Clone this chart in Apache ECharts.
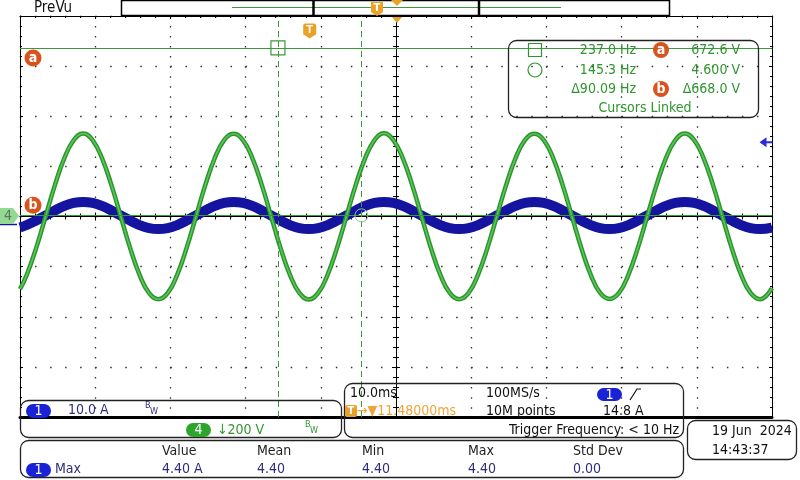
<!DOCTYPE html>
<html><head><meta charset="utf-8">
<script src="https://cdn.jsdelivr.net/npm/echarts@6/dist/echarts.min.js"></script>
<style>html,body{margin:0;padding:0;background:#fff}#c{width:800px;height:480px}</style>
</head><body><div id="c"></div>
<script>
// ---- data ----
// time relative to screen centre (ms); screen centre = trigger + 11.48 ms
const timeMs = [-50, -49.1, -47.85, -46.6, -45.35, -44.1, -42.85,
  -41.6, -40.35, -39.1, -37.85, -36.6, -35.35, -34.1, -32.85, -31.6, -30.35, -29.1, -27.85, -26.6, -25.35, -24.1, -22.85,
  -21.6, -20.35, -19.1, -17.85, -16.6, -15.35, -14.1, -12.85, -11.6, -10.35, -9.1, -7.85, -6.6, -5.35, -4.1, -2.85,
  -1.6, -0.35, 0.9, 2.15, 3.4, 4.65, 5.9, 7.15, 8.4, 9.65, 10.9, 12.15, 13.4, 14.65, 15.9, 17.15,
  18.4, 19.65, 20.9, 22.15, 23.4, 24.65, 25.9, 27.15, 28.4, 29.65, 30.9, 32.15, 33.4, 34.65, 35.9, 37.15,
  38.4, 39.65, 40.9, 42.15, 43.4, 44.65, 45.9, 47.15, 48.4, 50];
// channel 4 voltage (V), 200 V/div
const ch4Volts = [-290, -233, -126, 0, 126, 233, 305,
  331, 305, 233, 126, 0, -126, -233, -305, -330, -305, -233, -126, 0, 126, 233, 305,
  330, 305, 233, 126, 0, -126, -233, -305, -331, -305, -233, -126, 0, 126, 233, 305,
  332, 305, 233, 126, 0, -126, -233, -305, -330, -305, -233, -126, 0, 126, 233, 305,
  330, 305, 233, 126, 0, -126, -233, -305, -329, -305, -233, -126, 0, 126, 233, 305,
  331, 305, 233, 126, 0, -126, -233, -305, -330, -286];
// channel 1 current (A), 10 A/div
const ch1Amps = [-2.2, -1.7, -0.8, 0.2, 1.2, 2.1, 2.7,
  2.9, 2.7, 2.1, 1.2, 0.2, -0.8, -1.7, -2.3, -2.5, -2.3, -1.7, -0.8, 0.2, 1.2, 2.1, 2.7,
  2.9, 2.7, 2.1, 1.2, 0.2, -0.8, -1.7, -2.3, -2.5, -2.3, -1.7, -0.8, 0.2, 1.2, 2.1, 2.7,
  2.9, 2.7, 2.1, 1.2, 0.2, -0.8, -1.7, -2.3, -2.5, -2.3, -1.7, -0.8, 0.2, 1.2, 2.1, 2.7,
  2.9, 2.7, 2.1, 1.2, 0.2, -0.8, -1.7, -2.3, -2.5, -2.3, -1.7, -0.8, 0.2, 1.2, 2.1, 2.7,
  2.9, 2.7, 2.1, 1.2, 0.2, -0.8, -1.7, -2.3, -2.5, -2.2];
const triggerDelayMs = 11.48;
const cursorTimesMs = [-4.219, 6.882];   // X1, X2 relative to trigger
const cursorVolts = [672.6, 4.6];        // Y a, Y b
const triggerLevelA = 14.8;
const readoutRows = [["237.0 Hz", "672.6 V"], ["145.3 Hz", "4.600 V"], ["\u039490.09 Hz", "\u0394668.0 V"]];
const measHeaders = ["Value", "Mean", "Min", "Max", "Std Dev"];
const measValues = ["4.40 A", "4.40", "4.40", "4.40", "0.00"];

// ---- chart ----
const F = "'Liberation Sans Narrow','DejaVu Sans Condensed','Arial Narrow',sans-serif";
const GREEN = '#2f962f', NAVY = '#2e2e7a', ORANGE = '#e9a128', BLUE = '#1414a0';
const chart = echarts.init(document.getElementById('c'), null, {renderer: 'canvas'});
const ch4Data = timeMs.map((t, i) => [t, ch4Volts[i]]);
const ch1Data = timeMs.map((t, i) => [t, ch1Amps[i]]);
const x1 = cursorTimesMs[0] - triggerDelayMs, x2 = cursorTimesMs[1] - triggerDelayMs;

function txt(x, y, s, fill, o) {
  o = o || {};
  return {type: 'text', x: x, y: y, z: 20, silent: true, style: {text: s, fill: fill, fontSize: o.size || 14,
    fontFamily: F, fontWeight: o.bold ? 'bold' : 'normal', align: o.align || 'left', verticalAlign: 'middle'}};
}
function rrect(x, y, w, h, r, stroke, fill, lw) {
  return {type: 'rect', z: 15, silent: true, shape: {x: x, y: y, width: w, height: h, r: r},
    style: {fill: fill || 'none', stroke: stroke || 'none', lineWidth: lw || 1}};
}
function pill(x, y, w, h, fill, label) {
  return [rrect(x, y, w, h, h / 2, null, fill), txt(x + w / 2, y + h / 2 + 0.5, label, '#fff', {align: 'center', size: 14})];
}
function badge(cx, cy, label) {
  return [{type: 'circle', z: 18, silent: true, shape: {cx: cx, cy: cy, r: 8}, style: {fill: '#d9531e'}},
    txt(cx, cy, label, '#fff', {align: 'center', size: 14, bold: true})];
}
function line(x1_, y1, x2_, y2, stroke, w) {
  return {type: 'line', z: 16, silent: true, shape: {x1: x1_, y1: y1, x2: x2_, y2: y2}, style: {stroke: stroke, lineWidth: w || 1}};
}
function tIcon(cx, cy) {
  return [{type: 'polygon', z: 18, silent: true, shape: {points: [[cx - 6, cy - 7], [cx + 6, cy - 7], [cx + 6, cy + 3], [cx, cy + 7], [cx - 6, cy + 3]]},
    style: {fill: ORANGE}}, txt(cx, cy - 1, 'T', '#fff', {align: 'center', size: 11, bold: true})];
}

const graphic = [].concat(
  [txt(34, 8, 'PreVu', '#111', {size: 15})],
  [rrect(121.5, 0.5, 548, 15, 0, '#000', '#fff', 1.5), line(232, 7.5, 561, 7.5, '#3a9a3a', 1.2),
   line(313.5, 1, 313.5, 15, '#000', 2.5), line(479, 1, 479, 15, '#000', 2.5)],
  tIcon(377, 9),
  [{type: 'polygon', z: 18, silent: true, shape: {points: [[391, 0], [403, 0], [397, 6]]}, style: {fill: ORANGE}},
   {type: 'polygon', z: 18, silent: true, shape: {points: [[392, 17], [402, 17], [397, 23]]}, style: {fill: ORANGE}}],
  // ch4 ground marker
  [{type: 'polygon', z: 18, silent: true, shape: {points: [[0, 208], [13, 208], [19, 216], [13, 224], [0, 224]]}, style: {fill: '#93d893'}},
   txt(8, 216, '4', '#5a7a5a', {align: 'center', size: 14}), line(0, 224.5, 17, 224.5, BLUE, 1.5)],
  // cursor readout box
  [rrect(508.5, 40.5, 250, 77, 8, '#222', null, 1.3),
   rrect(528.5, 43.5, 13, 13, 0, GREEN, null, 1.2),
   {type: 'circle', z: 18, silent: true, shape: {cx: 535, cy: 70, r: 7}, style: {fill: 'none', stroke: GREEN, lineWidth: 1.2}}],
  readoutRows.map((r, i) => txt(636, [50, 70, 89][i], r[0], GREEN, {align: 'right'})),
  readoutRows.map((r, i) => txt(740, [50, 70, 89][i], r[1], GREEN, {align: 'right'})),
  badge(661, 50, 'a'), badge(661, 89, 'b'),
  [txt(645, 108, 'Cursors Linked', GREEN, {align: 'center'})],
  // channel panel
  [rrect(20.5, 400.5, 321, 37, 8, '#222', null, 1.3)],
  pill(26, 404, 25, 14, '#1a22d6', '1'),
  [txt(68, 410, '10.0 A', NAVY), txt(145, 406, 'B', NAVY, {size: 9}), txt(150, 412, 'W', NAVY, {size: 9})],
  pill(186, 423, 25, 14, '#2da52d', '4'),
  [txt(217, 430, '\u2193200 V', GREEN), txt(305, 425, 'B', GREEN, {size: 9}), txt(310, 431, 'W', GREEN, {size: 9})],
  // timebase panel
  [rrect(344.5, 383.5, 339, 54, 8, '#222', null, 1.3),
   txt(350, 393, '10.0ms', '#111'), txt(486, 393, '100MS/s', '#111')],
  pill(597, 388, 25, 13, '#1a22d6', '1'),
  [{type: 'polyline', z: 18, silent: true, shape: {points: [[630, 400], [637, 389], [641, 389]]}, style: {stroke: '#111', lineWidth: 1.2, fill: 'none'}}],
  [rrect(345, 405, 12, 12, 2, null, ORANGE), txt(351, 411, 'T', '#fff', {align: 'center', size: 11, bold: true}),
   txt(357, 411, '\u2192\u25BC11.48000ms', '#f0a53a'), txt(486, 411, '10M points', '#111'), txt(603, 411, '14.8 A', '#111'),
   txt(679, 430, 'Trigger Frequency: < 10 Hz', '#111', {align: 'right'})],
  // date panel
  [rrect(687.5, 420.5, 109, 39, 8, '#222', null, 1.3), txt(712, 431, '19 Jun  2024', '#111'), txt(712, 450, '14:43:37', '#111')],
  // measurement panel
  [rrect(20.5, 440.5, 663, 37, 8, '#222', null, 1.3)],
  measHeaders.map((h, i) => txt([162, 257, 362, 468, 573][i], 451, h, '#222')),
  pill(26, 463, 25, 14, '#1a22d6', '1'),
  [txt(55, 469, 'Max', NAVY)],
  measValues.map((v, i) => txt([162, 257, 362, 468, 573][i], 469, v, NAVY))
);

const hidden = {axisLabel: {show: false}, splitLine: {show: false}};
function edgeX(pos, width, ticks, split) {
  return Object.assign({type: 'value', min: -50, max: 50, interval: 10, position: pos}, hidden, {
    axisLine: {onZero: false, lineStyle: {color: '#000', width: width}},
    axisTick: {show: ticks, inside: true, length: 3, lineStyle: {color: '#000'}},
    minorTick: {show: ticks, splitNumber: 5, length: 2, lineStyle: {color: '#000'}},
    splitLine: {show: split, lineStyle: {color: '#333', width: 1.3, type: [1.5, 8.53]}}
  });
}
function centerX(inside) {
  return Object.assign({type: 'value', min: -50, max: 50, interval: 10, position: 'bottom'}, hidden, {
    axisLine: {onZero: true, onZeroAxisIndex: 0, lineStyle: {color: '#000', width: 1}},
    axisTick: {show: true, inside: inside, length: 4, lineStyle: {color: '#000'}},
    minorTick: {show: true, splitNumber: 5, length: 3, lineStyle: {color: '#000'}}
  });
}
function yAx(min, max, iv, pos, onZero, inside, split) {
  return Object.assign({type: 'value', min: min, max: max, interval: iv, position: pos}, hidden, {
    axisLine: onZero ? {onZero: true, onZeroAxisIndex: 0, lineStyle: {color: '#000', width: 1}} : {onZero: false, lineStyle: {color: '#000', width: 1}},
    axisTick: {show: true, inside: inside, length: onZero ? 4 : 3, lineStyle: {color: '#000'}},
    minorTick: {show: true, splitNumber: 5, length: onZero ? 3 : 2, lineStyle: {color: '#000'}},
    splitLine: {show: split, lineStyle: {color: '#333', width: 1.3, type: [1.5, 13.54]}}
  });
}

const option = {
  animation: false,
  backgroundColor: '#fff',
  grid: {left: 20, top: 16, width: 752, height: 401, containLabel: false},
  xAxis: [edgeX('bottom', 3, false, true), edgeX('top', 1, true, false), centerX(true), centerX(false)],
  yAxis: [yAx(-800, 800, 200, 'left', false, true, true), yAx(-40, 40, 10, 'right', false, true, false),
          yAx(-800, 800, 200, 'left', true, true, false), yAx(-800, 800, 200, 'left', true, false, false)],
  series: [
    {type: 'line', name: 'ch1', xAxisIndex: 0, yAxisIndex: 1, data: ch1Data, smooth: 0.45, symbol: 'none', z: 2,
     lineStyle: {color: BLUE, width: 10},
     markPoint: {silent: true, data: [{coord: [50, triggerLevelA], symbol: 'path://M0,5 L7,0 L7,4 L13,4 L13,6 L7,6 L7,10 Z',
       symbolSize: [13, 10], symbolOffset: [-6, 0], itemStyle: {color: '#2a2ad8'}, label: {show: false}}]}},
    {type: 'line', name: 'ch4', xAxisIndex: 0, yAxisIndex: 0, data: ch4Data, smooth: 0.45, symbol: 'none', z: 3,
     lineStyle: {color: '#2e922e', width: 4.5},
     markLine: {silent: true, symbol: 'none', label: {show: false}, animation: false,
       data: [
         {xAxis: x1, lineStyle: {color: '#3a9a3a', width: 1, type: [6, 4]}},
         {xAxis: x2, lineStyle: {color: '#3a9a3a', width: 1, type: [6, 4]}},
         {yAxis: cursorVolts[0], lineStyle: {color: '#3a9a3a', width: 1.2, type: 'solid'}},
         {yAxis: cursorVolts[1], lineStyle: {color: '#3a9a3a', width: 1.2, type: 'solid'}}
       ]},
     markPoint: {silent: true, data: [
       {coord: [x1, cursorVolts[0]], symbol: 'rect', symbolSize: 14, itemStyle: {color: 'rgba(0,0,0,0)', borderColor: '#3a9a3a', borderWidth: 1.2}, label: {show: false}},
       {coord: [x2, cursorVolts[1]], symbol: 'circle', symbolSize: 13, itemStyle: {color: 'rgba(0,0,0,0)', borderColor: '#8fc88f', borderWidth: 1}, label: {show: false}},
       {coord: [-50, cursorVolts[0]], symbol: 'circle', symbolSize: 17, symbolOffset: [13, 10], itemStyle: {color: '#d9531e'},
        label: {show: true, position: 'inside', formatter: 'a', color: '#fff', fontSize: 14, fontWeight: 'bold', fontFamily: F}},
       {coord: [-50, cursorVolts[1]], symbol: 'circle', symbolSize: 17, symbolOffset: [13, -10], itemStyle: {color: '#d9531e'},
        label: {show: true, position: 'inside', formatter: 'b', color: '#fff', fontSize: 14, fontWeight: 'bold', fontFamily: F}},
       {coord: [-triggerDelayMs, 740], symbol: 'path://M2,0 L10,0 Q12,0 12,2 L12,10 L6,14 L0,10 L0,2 Q0,0 2,0 Z', symbolSize: [13, 15],
        itemStyle: {color: ORANGE}, label: {show: true, position: 'inside', formatter: 'T', color: '#fff', fontSize: 11, fontWeight: 'bold', offset: [0, -1]}}
     ]}},
    {type: 'line', name: 'ch4core', xAxisIndex: 0, yAxisIndex: 0, data: ch4Data, smooth: 0.45, symbol: 'none', z: 4,
     lineStyle: {color: '#55c855', width: 1.6}}
  ],
  graphic: graphic
};
chart.setOption(option);
</script>
</body></html>
